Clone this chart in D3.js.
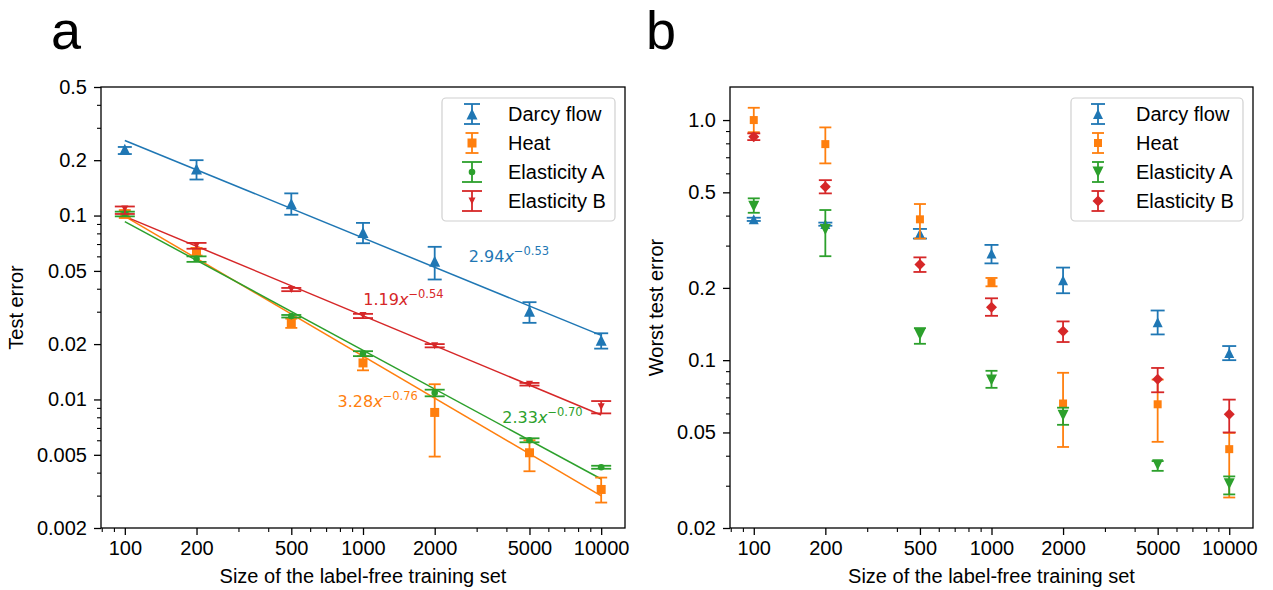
<!DOCTYPE html>
<html><head><meta charset="utf-8">
<script src="https://cdn.jsdelivr.net/npm/d3@7"></script>
<style>
html,body{margin:0;padding:0;background:#fff;}
svg text{font-family:"Liberation Sans",Arial,sans-serif;}
</style></head>
<body><svg id="chart" width="1273" height="590"></svg>
<script>
// ---------- data ----------
const sizes = [100, 200, 500, 1000, 2000, 5000, 10000];
const seriesNames = ["Darcy flow", "Heat", "Elasticity A", "Elasticity B"];
const colors = ["#1f77b4", "#ff7f0e", "#2ca02c", "#d62728"];

// panel a: test error (mean, lower, upper)
const darcyA    = [0.229, 0.179, 0.116, 0.081, 0.0565, 0.0302, 0.021];
const darcyALo  = [0.216, 0.157, 0.101, 0.0707, 0.0449, 0.0261, 0.0189];
const darcyAHi  = [0.236, 0.200, 0.132, 0.0912, 0.0676, 0.0338, 0.0229];
const heatA     = [0.102, 0.0637, 0.0261, 0.0158, 0.0085, 0.00513, 0.00324];
const heatALo   = [0.097, 0.0606, 0.0245, 0.0144, 0.00489, 0.00407, 0.00275];
const heatAHi   = [0.107, 0.0667, 0.0275, 0.0172, 0.0121, 0.0060, 0.00376];
const elasAA    = [0.1025, 0.0582, 0.0284, 0.0178, 0.01086, 0.0060, 0.00428];
const elasAALo  = [0.099, 0.056, 0.0279, 0.0172, 0.0104, 0.00585, 0.00420];
const elasAAHi  = [0.105, 0.060, 0.0288, 0.0183, 0.0113, 0.00615, 0.00436];
const elasBA    = [0.1087, 0.0687, 0.0396, 0.0286, 0.0196, 0.0121, 0.00912];
const elasBALo  = [0.102, 0.066, 0.0388, 0.0277, 0.0192, 0.0119, 0.0084];
const elasBAHi  = [0.112, 0.071, 0.0404, 0.0292, 0.0200, 0.0123, 0.0098];

// power-law fits shown in panel a: coef * x^exp
const fitCoef = [2.94, 3.28, 2.33, 1.19];
const fitExp  = [-0.53, -0.76, -0.70, -0.54];
const fitLabelX = [2780, 782, 3846, 1003];
const fitLabelY = [0.0557, 0.00912, 0.00746, 0.0328];

// panel b: worst test error
const darcyB    = [0.386, 0.369, 0.337, 0.278, 0.215, 0.144, 0.107];
const darcyBLo  = [0.380, 0.363, 0.321, 0.253, 0.190, 0.128, 0.100];
const darcyBHi  = [0.392, 0.374, 0.352, 0.302, 0.243, 0.161, 0.1145];
const heatB     = [1.0, 0.794, 0.386, 0.211, 0.066, 0.0655, 0.0426];
const heatBLo   = [0.89, 0.66, 0.321, 0.203, 0.0435, 0.0457, 0.0268];
const heatBHi   = [1.125, 0.932, 0.447, 0.220, 0.0886, 0.083, 0.0498];
const elasAB    = [0.438, 0.35, 0.128, 0.0826, 0.059, 0.0367, 0.0306];
const elasABLo  = [0.411, 0.271, 0.117, 0.0767, 0.0538, 0.0346, 0.0276];
const elasABHi  = [0.472, 0.422, 0.136, 0.0903, 0.0634, 0.038, 0.0328];
const elasBB    = [0.852, 0.527, 0.25, 0.166, 0.132, 0.0833, 0.0596];
const elasBBLo  = [0.825, 0.495, 0.233, 0.153, 0.119, 0.0735, 0.05];
const elasBBHi  = [0.88, 0.562, 0.268, 0.181, 0.145, 0.0928, 0.0685];

const xTickLabels = ["100", "200", "500", "1000", "2000", "5000", "10000"];
const yTicksA = [0.002, 0.005, 0.01, 0.02, 0.05, 0.1, 0.2, 0.5];
const yTickLabelsA = ["0.002", "0.005", "0.01", "0.02", "0.05", "0.1", "0.2", "0.5"];
const yTicksB = [0.02, 0.05, 0.1, 0.2, 0.5, 1.0];
const yTickLabelsB = ["0.02", "0.05", "0.1", "0.2", "0.5", "1.0"];

// ---------- helpers ----------
const svg = d3.select("#chart");
function minorTicks(lo, hi) {
  const out = [];
  for (let e = -4; e <= 5; e++) {
    for (const m of [3, 4, 6, 7, 8, 9]) {
      const v = m * Math.pow(10, e);
      if (v >= lo * 0.9999 && v <= hi * 1.0001) out.push(v);
    }
  }
  return out;
}
const shapes = {
  triUp:  s => `M0,${-s}L${s},${s}L${-s},${s}Z`,
  triDown:s => `M0,${s}L${s},${-s}L${-s},${-s}Z`,
  square: s => `M${-s},${-s}H${s}V${s}H${-s}Z`,
  diamond:s => `M0,${-s}L${s},0L0,${s}L${-s},0Z`,
  circle: s => `M${-s},0A${s},${s} 0 1,0 ${s},0A${s},${s} 0 1,0 ${-s},0Z`
};

function drawPanel(cfg) {
  const g = svg.append("g");
  const x = d3.scaleLog().domain([Math.pow(10, 1.9), Math.pow(10, 4.1)]).range([cfg.left, cfg.right]);
  const y = d3.scaleLog().domain(cfg.yDomain).range([cfg.bottom, cfg.top]);

  // x axis
  const xMinor = minorTicks(x.domain()[0], x.domain()[1]);
  g.append("g").attr("transform", `translate(0,${cfg.bottom})`)
    .call(d3.axisBottom(x).tickValues(xMinor).tickSize(4).tickFormat(""))
    .call(a => a.select(".domain").remove())
    .call(a => a.selectAll("line").attr("stroke", "#000").attr("stroke-width", 1.1));
  g.append("g").attr("transform", `translate(0,${cfg.bottom})`)
    .call(d3.axisBottom(x).tickValues(sizes).tickSize(7).tickPadding(6)
      .tickFormat((d, i) => xTickLabels[i]))
    .call(a => a.select(".domain").remove())
    .call(a => a.selectAll("line").attr("stroke", "#000").attr("stroke-width", 1.3))
    .call(a => a.selectAll("text").attr("font-size", 20).attr("fill", "#000")
      .attr("font-family", "Liberation Sans, Arial, sans-serif"));

  // y axis
  const yMinor = minorTicks(y.domain()[0], y.domain()[1]);
  g.append("g").attr("transform", `translate(${cfg.left},0)`)
    .call(d3.axisLeft(y).tickValues(yMinor).tickSize(4).tickFormat(""))
    .call(a => a.select(".domain").remove())
    .call(a => a.selectAll("line").attr("stroke", "#000").attr("stroke-width", 1.1));
  g.append("g").attr("transform", `translate(${cfg.left},0)`)
    .call(d3.axisLeft(y).tickValues(cfg.yTicks).tickSize(7).tickPadding(7)
      .tickFormat((d, i) => cfg.yTickLabels[i]))
    .call(a => a.select(".domain").remove())
    .call(a => a.selectAll("line").attr("stroke", "#000").attr("stroke-width", 1.3))
    .call(a => a.selectAll("text").attr("font-size", 20).attr("fill", "#000")
      .attr("font-family", "Liberation Sans, Arial, sans-serif"));

  // frame
  g.append("rect").attr("x", cfg.left).attr("y", cfg.top)
    .attr("width", cfg.right - cfg.left).attr("height", cfg.bottom - cfg.top)
    .attr("fill", "none").attr("stroke", "#000").attr("stroke-width", 1.3);

  // fit lines
  if (cfg.fits) {
    cfg.fits.forEach((f, k) => {
      const x0 = sizes[0], x1 = sizes[sizes.length - 1];
      g.append("line")
        .attr("x1", x(x0)).attr("y1", y(f.c * Math.pow(x0, f.e)))
        .attr("x2", x(x1)).attr("y2", y(f.c * Math.pow(x1, f.e)))
        .attr("stroke", colors[k]).attr("stroke-width", 1.5);
    });
  }

  // series
  cfg.series.forEach((s, k) => {
    const sg = g.append("g");
    sizes.forEach((sz, i) => {
      const cx = x(sz);
      sg.append("line").attr("x1", cx).attr("x2", cx)
        .attr("y1", y(s.lo[i])).attr("y2", y(s.hi[i]))
        .attr("stroke", colors[k]).attr("stroke-width", 1.8);
      [s.lo[i], s.hi[i]].forEach(v => {
        sg.append("line").attr("x1", cx - s.cap / 2).attr("x2", cx + s.cap / 2)
          .attr("y1", y(v)).attr("y2", y(v))
          .attr("stroke", colors[k]).attr("stroke-width", 1.8);
      });
      sg.append("path").attr("d", shapes[s.shape](s.ms))
        .attr("transform", `translate(${cx},${y(s.v[i])})`)
        .attr("fill", colors[k]);
    });
  });

  // fit labels
  if (cfg.fits) {
    cfg.fits.forEach((f, k) => {
      const t = g.append("text")
        .attr("x", x(fitLabelX[k])).attr("y", y(fitLabelY[k]))
        .attr("fill", colors[k]).attr("font-size", 16)
        .style("font-family", "DejaVu Sans, sans-serif");
      t.append("tspan").text(f.c.toFixed(2));
      t.append("tspan").attr("font-style", "italic").text("x");
      t.append("tspan").attr("font-size", 11.5).attr("dy", -7)
        .text("\u2212" + Math.abs(f.e).toFixed(2));
    });
  }

  // legend
  const L = cfg.legend;
  g.append("rect").attr("x", L.x0).attr("y", L.y0)
    .attr("width", L.x1 - L.x0).attr("height", L.y1 - L.y0)
    .attr("rx", 4).attr("fill", "#fff").attr("fill-opacity", 0.8)
    .attr("stroke", "#d0d0d0").attr("stroke-width", 1.2);
  cfg.series.forEach((s, k) => {
    const cy = L.rowY0 + k * 29;
    const hx = L.handleX;
    g.append("line").attr("x1", hx).attr("x2", hx).attr("y1", cy - 10).attr("y2", cy + 10)
      .attr("stroke", colors[k]).attr("stroke-width", 1.8);
    [cy - 10, cy + 10].forEach(yy => {
      g.append("line").attr("x1", hx - s.legCap / 2).attr("x2", hx + s.legCap / 2)
        .attr("y1", yy).attr("y2", yy).attr("stroke", colors[k]).attr("stroke-width", 1.8);
    });
    g.append("path").attr("d", shapes[s.shape](s.ms))
      .attr("transform", `translate(${hx},${cy})`).attr("fill", colors[k]);
    g.append("text").attr("x", L.textX).attr("y", cy + 7)
      .attr("font-size", 20).attr("fill", "#000").text(seriesNames[k]);
  });

  // axis labels
  g.append("text").attr("x", (cfg.left + cfg.right) / 2).attr("y", 583)
    .attr("text-anchor", "middle").attr("font-size", 20).attr("fill", "#000")
    .text("Size of the label-free training set");
  g.append("text").attr("transform", `translate(${cfg.yLabelX},${(cfg.top + cfg.bottom) / 2}) rotate(-90)`)
    .attr("text-anchor", "middle").attr("font-size", 20).attr("fill", "#000")
    .text(cfg.yLabel);
  g.append("text").attr("x", cfg.letterX).attr("y", 49)
    .attr("font-size", 54).attr("fill", "#000").text(cfg.letter);
}

drawPanel({
  left: 101, right: 625, top: 87, bottom: 528,
  yDomain: [0.002, 0.5], yTicks: yTicksA, yTickLabels: yTickLabelsA,
  yLabel: "Test error", yLabelX: 23, letter: "a", letterX: 51,
  fits: fitCoef.map((c, k) => ({ c: c, e: fitExp[k] })),
  series: [
    { v: darcyA, lo: darcyALo, hi: darcyAHi, shape: "triUp", ms: 5.5, cap: 14, legCap: 16 },
    { v: heatA, lo: heatALo, hi: heatAHi, shape: "square", ms: 4.5, cap: 12, legCap: 13 },
    { v: elasAA, lo: elasAALo, hi: elasAAHi, shape: "circle", ms: 3.3, cap: 20, legCap: 20 },
    { v: elasBA, lo: elasBALo, hi: elasBAHi, shape: "triDown", ms: 3.5, cap: 20, legCap: 20 }
  ],
  legend: { x0: 442, x1: 615, y0: 98, y1: 221, rowY0: 114, handleX: 472, textX: 508 }
});

drawPanel({
  left: 730, right: 1253, top: 87, bottom: 528,
  yDomain: [0.02, 1.373], yTicks: yTicksB, yTickLabels: yTickLabelsB,
  yLabel: "Worst test error", yLabelX: 663, letter: "b", letterX: 646,
  fits: null,
  series: [
    { v: darcyB, lo: darcyBLo, hi: darcyBHi, shape: "triUp", ms: 5, cap: 14, legCap: 14 },
    { v: heatB, lo: heatBLo, hi: heatBHi, shape: "square", ms: 4, cap: 12, legCap: 12 },
    { v: elasAB, lo: elasABLo, hi: elasABHi, shape: "triDown", ms: 5.5, cap: 12, legCap: 12 },
    { v: elasBB, lo: elasBBLo, hi: elasBBHi, shape: "diamond", ms: 5.5, cap: 13, legCap: 13 }
  ],
  legend: { x0: 1071, x1: 1243, y0: 98, y1: 221, rowY0: 114, handleX: 1098, textX: 1136 }
});
</script>
</body></html>
